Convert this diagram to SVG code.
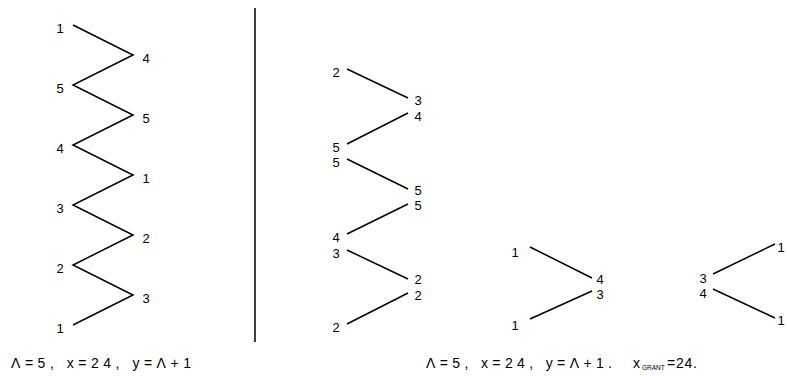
<svg xmlns="http://www.w3.org/2000/svg" width="787" height="376" viewBox="0 0 787 376">
<style>
text{font-family:"Liberation Sans","DejaVu Sans",sans-serif;font-size:13px;fill:#000;text-anchor:middle}
.cap{text-anchor:start;font-size:14px}
.sub{font-size:6.5px;text-anchor:start}
line,polyline{stroke:#000;stroke-width:1.5;fill:none}
</style>
<rect width="787" height="376" fill="#fff"/>
<g id="connectors">
<polyline points="73,25 133,55 73,85 133,115 73,145 133,175 73,205 133,235 73,265 133,295 73,325"/>
<line x1="255" y1="8" x2="255" y2="342"/>
<line x1="347" y1="69" x2="408" y2="98"/>
<line x1="408" y1="113" x2="347" y2="144"/>
<line x1="347" y1="159" x2="408" y2="189"/>
<line x1="408" y1="204" x2="347" y2="234"/>
<line x1="347" y1="250" x2="408" y2="279"/>
<line x1="408" y1="293" x2="347" y2="324"/>
<line x1="530" y1="247" x2="592" y2="278"/>
<line x1="592" y1="291" x2="530" y2="319"/>
<line x1="775" y1="244" x2="713" y2="274"/>
<line x1="713" y1="289" x2="775" y2="318"/>
</g>
<g id="left-zigzag">
<g id="l1"><text x="60" y="33">1</text></g>
<g id="l2"><text x="146" y="63">4</text></g>
<g id="l3"><text x="60" y="93">5</text></g>
<g id="l4"><text x="146" y="123">5</text></g>
<g id="l5"><text x="60" y="153">4</text></g>
<g id="l6"><text x="146" y="183">1</text></g>
<g id="l7"><text x="60" y="213">3</text></g>
<g id="l8"><text x="146" y="243">2</text></g>
<g id="l9"><text x="60" y="273">2</text></g>
<g id="l10"><text x="146" y="303">3</text></g>
<g id="l11"><text x="60" y="333">1</text></g>
</g>
<g id="right-zigzag">
<g id="r1"><text x="336" y="77">2</text></g>
<g id="r2"><text x="418" y="105">3</text><text x="418" y="121">4</text></g>
<g id="r3"><text x="336" y="152">5</text><text x="336" y="167">5</text></g>
<g id="r4"><text x="418" y="195">5</text><text x="418" y="210">5</text></g>
<g id="r5"><text x="336" y="242">4</text><text x="336" y="258">3</text></g>
<g id="r6"><text x="418" y="284">2</text><text x="418" y="300">2</text></g>
<g id="r7"><text x="336" y="332">2</text></g>
</g>
<g id="split-left">
<g id="s1"><text x="515" y="257">1</text></g>
<g id="s2"><text x="600" y="284">4</text><text x="600" y="299">3</text></g>
<g id="s3"><text x="515" y="330">1</text></g>
</g>
<g id="split-right">
<g id="t1"><text x="781" y="252">1</text></g>
<g id="t2"><text x="703" y="283">3</text><text x="703" y="298">4</text></g>
<g id="t3"><text x="781" y="325">1</text></g>
</g>
<g id="captions">
<text class="cap" x="11" y="368" textLength="180" lengthAdjust="spacing">Λ=5, x=24, y=Λ+1</text>
<text class="cap" x="426" y="368" textLength="186" lengthAdjust="spacing">Λ=5, x=24, y=Λ+1.</text>
<text class="cap" x="633" y="368">x</text>
<text class="sub" x="642" y="370">GRANT</text>
<text class="cap" x="667" y="368" textLength="30" lengthAdjust="spacing">=24.</text>
</g>
</svg>
